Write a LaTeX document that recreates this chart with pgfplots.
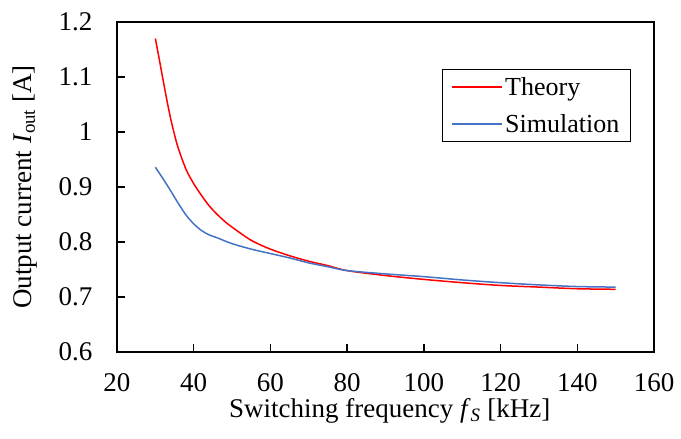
\documentclass[border=0pt]{standalone}
\usepackage{pgfplots}
\pgfplotsset{compat=1.18}
\usepackage{fontspec}
\setmainfont{Liberation Serif}
\definecolor{simblue}{RGB}{68,114,196}
\begin{document}
\begin{tikzpicture}
\useasboundingbox (-117pt,-87pt) rectangle (564pt,352pt);
\begin{axis}[
  scale only axis,
  width=537pt, height=330pt,
  xmin=20, xmax=160, ymin=0.6, ymax=1.2,
  xtick={20,40,...,160},
  ytick={0.6,0.7,0.8,0.9,1,1.1,1.2},
  yticklabels={0.6,0.7,0.8,0.9,1,1.1,1.2},
  xtick pos=left, ytick pos=left,
  tick align=inside,
  major tick length=8pt,
  every tick/.style={black, line width=1.3pt},
  axis line style={line width=1.5pt},
  /pgf/number format/assume math mode=true,
  tick label style={font=\fontsize{27}{32}\selectfont},
  xticklabel shift=18pt,
  yticklabel shift=21pt,
  every axis y label/.style={at={(axis description cs:-0.172,0.5)}, anchor=center, rotate=90, font=\fontsize{27}{32}\selectfont},
  every axis x label/.style={at={(axis description cs:0.508,-0.179)}, anchor=center, font=\fontsize{27}{32}\selectfont},
  xlabel={Switching frequency \textit{f}\textsubscript{\textit{S}} [kHz]},
  ylabel={Output current \textit{I}\textsubscript{out} [A]},
  legend style={at={(0.957,0.858)}, anchor=north east, draw=black, very thick,
    font=\fontsize{26}{31}\selectfont, inner xsep=9pt, inner ysep=6pt, row sep=13pt},
  legend cell align=left,
  legend image code/.code={\draw[#1] (0pt,0pt) -- (50pt,0pt);},
]
\addplot[color=red, line width=1.5pt, smooth, tension=0.5] coordinates {
(30,1.170) (31,1.133) (32,1.095) (33,1.058) (34,1.024) (35,0.995) (36,0.970)
(38,0.932) (40,0.906) (42,0.885) (44,0.866) (46,0.851) (48,0.838) (50,0.827)
(55,0.803) (60,0.787) (65,0.775) (70,0.765) (75,0.757) (80,0.748) (90,0.739)
(100,0.732) (110,0.726) (120,0.721) (130,0.718) (140,0.715) (150,0.714)};
\addlegendentry{Theory}
\addplot[color=simblue, line width=1.5pt, smooth, tension=0.5] coordinates {
(30,0.936) (32,0.915) (34,0.893) (36,0.870) (38,0.849) (40,0.833) (42,0.821)
(44,0.813) (46,0.808) (50,0.797) (55,0.787) (60,0.779) (65,0.771) (70,0.762)
(75,0.755) (80,0.748) (90,0.742) (100,0.737) (110,0.731) (120,0.726) (130,0.722)
(140,0.719) (150,0.718)};
\addlegendentry{Simulation}
\end{axis}
\end{tikzpicture}
\end{document}
